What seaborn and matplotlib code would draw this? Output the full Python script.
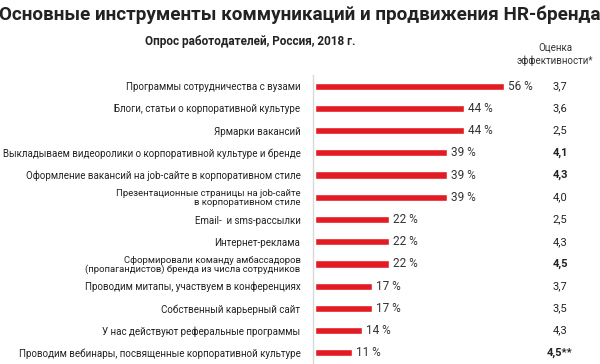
import matplotlib
matplotlib.use("Agg")
import matplotlib.pyplot as plt
import seaborn as sns
import pandas as pd
from matplotlib import font_manager

categories = [
    "Программы сотрудничества с вузами",
    "Блоги, статьи о корпоративной культуре",
    "Ярмарки вакансий",
    "Выкладываем видеоролики о корпоративной культуре и бренде",
    "Оформление вакансий на job-сайте в корпоративном стиле",
    "Презентационные страницы на job-сайте\nв корпоративном стиле",
    "Email-  и sms-рассылки",
    "Интернет-реклама",
    "Сформировали команду амбассадоров\n(пропагандистов) бренда из числа сотрудников",
    "Проводим митапы, участвуем в конференциях",
    "Собственный карьерный сайт",
    "У нас действуют реферальные программы",
    "Проводим вебинары, посвященные корпоративной культуре",
]
shares = [56, 44, 44, 39, 39, 39, 22, 22, 22, 17, 17, 14, 11]
scores = ["3,7", "3,6", "2,5", "4,1", "4,3", "4,0", "2,5", "4,3", "4,5", "3,7", "3,5", "4,3", "4,5**"]
bold_scores = [False, False, False, True, True, False, False, False, True, False, False, False, True]

title = "Основные инструменты коммуникаций и продвижения HR-бренда"
subtitle = "Опрос работодателей, Россия, 2018 г."
score_header = "Оценка\nэффективности*"

df = pd.DataFrame({"cat": categories, "share": shares})

sns.set_theme(style="white")
plt.rcParams["font.family"] = ["Roboto", "DejaVu Sans"]

names = {f.name for f in font_manager.fontManager.ttflist}
narrow = "Liberation Sans Narrow" if "Liberation Sans Narrow" in names else None

fig = plt.figure(figsize=(6, 3.64), dpi=100)
ax = fig.add_axes([313 / 600, 0, 272 / 600, 289 / 364])

sns.barplot(data=df, y="cat", x="share", orient="h", color="#e31b23",
            saturation=1, width=0.32, ax=ax)

ax.set_xlim(-0.6, 80)
ax.set_ylim(len(categories) - 0.5, -0.5)
ax.set_xlabel("")
ax.set_ylabel("")
ax.set_xticks([])
for s in ["top", "right", "bottom"]:
    ax.spines[s].set_visible(False)
ax.spines["left"].set_color("#d9d9d9")
ax.spines["left"].set_linewidth(1.0)
ax.tick_params(axis="y", length=0, pad=9, labelcolor="#222222")
for lbl in ax.get_yticklabels():
    multi = "\n" in lbl.get_text()
    if narrow:
        lbl.set_family([narrow, "DejaVu Sans"])
        lbl.set_fontsize(8.3 if multi else 8.5)
    else:
        lbl.set_fontsize(6.8 if multi else 7.0)
    lbl.set_linespacing(1.0)

for i, (v, sc, b) in enumerate(zip(shares, scores, bold_scores)):
    ax.text(v + 1.2, i, f"{v} %", va="center", ha="left", fontsize=8.5,
            color="#333333")
    ax.text(72.6, i, sc, va="center", ha="center", fontsize=8,
            color="#222222", fontweight="bold" if b else "normal")

fig.text(0.5, 1 - 15 / 364, title, ha="center", va="center",
         fontsize=13.6, fontweight="bold", color="#222222")
fig.text(250 / 600, 1 - 41 / 364, subtitle, ha="center", va="center",
         fontsize=8.5, fontweight="bold", color="#222222")
fig.text(555 / 600, 1 - 54 / 364, score_header, ha="center", va="center",
         fontsize=7, color="#333333", linespacing=1.4)

fig.savefig("out.png", dpi=100)
